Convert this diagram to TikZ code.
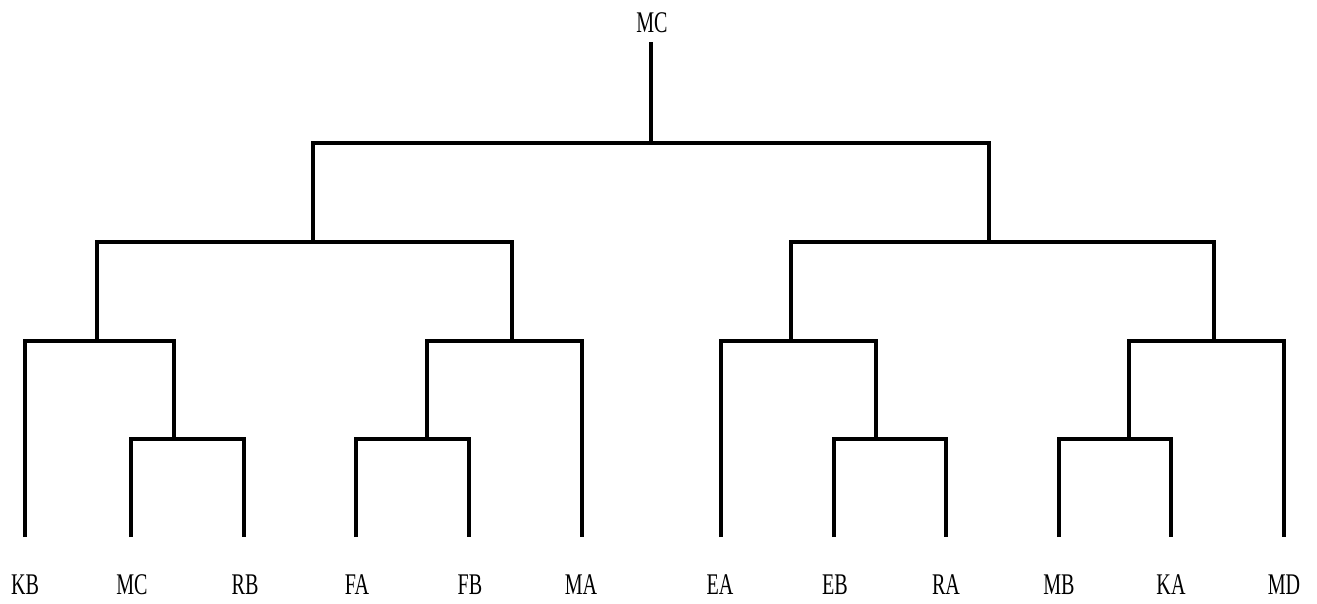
\documentclass[tikz,border=0pt]{standalone}
\usepackage{fontspec}
\newfontfamily\lblfont[FakeStretch=0.67]{Liberation Serif}
\begin{document}
\begin{tikzpicture}[x=1pt,y=-1pt,
  lbl/.style={inner sep=0pt,font=\lblfont\fontsize{30}{30}\selectfont},
  branch/.style={draw=black,line width=3.8pt,line join=miter,line cap=butt}]
\useasboundingbox (0,0) rectangle (1317,603);
% labels
\node[lbl] (top) at (652,23) {MC};
\node[lbl] (KB) at (25,585) {KB};
\node[lbl] (MC) at (132,585) {MC};
\node[lbl] (RB) at (245,585) {RB};
\node[lbl] (FA) at (357,585) {FA};
\node[lbl] (FB) at (470,585) {FB};
\node[lbl] (MA) at (581,585) {MA};
\node[lbl] (EA) at (720,585) {EA};
\node[lbl] (EB) at (835,585) {EB};
\node[lbl] (RA) at (946,585) {RA};
\node[lbl] (MB) at (1059,585) {MB};
\node[lbl] (KA) at (1171,585) {KA};
\node[lbl] (MD) at (1284,585) {MD};
% leaf tops
\coordinate (tKB) at (25,537);
\coordinate (tMC) at (131,537);
\coordinate (tRB) at (244,537);
\coordinate (tFA) at (356,537);
\coordinate (tFB) at (469,537);
\coordinate (tMA) at (582,537);
\coordinate (tEA) at (721,537);
\coordinate (tEB) at (834,537);
\coordinate (tRA) at (946,537);
\coordinate (tMB) at (1059,537);
\coordinate (tKA) at (1171,537);
\coordinate (tMD) at (1284,537);
% joins
\coordinate (c1) at (174,439);
\coordinate (c2) at (97,341);
\coordinate (c3) at (427,439);
\coordinate (c4) at (512,341);
\coordinate (c5) at (313,242);
\coordinate (c6) at (876,439);
\coordinate (c7) at (791,341);
\coordinate (c8) at (1129,439);
\coordinate (c9) at (1214,341);
\coordinate (c10) at (989,242);
\coordinate (c11) at (651,143);
\coordinate (root) at (651,42);
% branches
\draw[branch] (tMC) |- (c1) -| (tRB);
\draw[branch] (tKB) |- (c2) -| (c1);
\draw[branch] (tFA) |- (c3) -| (tFB);
\draw[branch] (c3) |- (c4) -| (tMA);
\draw[branch] (c2) |- (c5) -| (c4);
\draw[branch] (tEB) |- (c6) -| (tRA);
\draw[branch] (tEA) |- (c7) -| (c6);
\draw[branch] (tMB) |- (c8) -| (tKA);
\draw[branch] (c8) |- (c9) -| (tMD);
\draw[branch] (c7) |- (c10) -| (c9);
\draw[branch] (c5) |- (c11) -| (c10);
\draw[branch] (c11) -- (root);
\end{tikzpicture}
\end{document}
